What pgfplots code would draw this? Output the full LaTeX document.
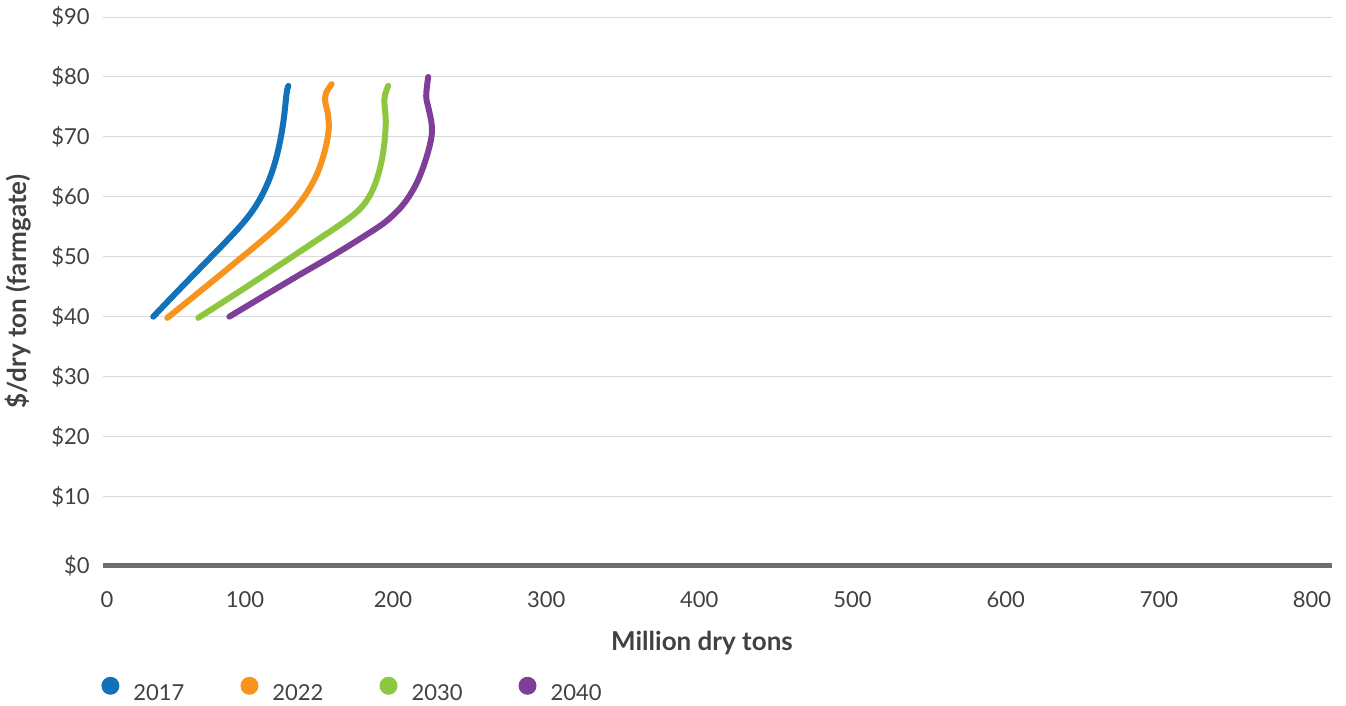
\documentclass[border=0pt]{standalone}
\usepackage{fontspec}
\setmainfont{Lato}
\usepackage{pgfplots}
\pgfplotsset{compat=1.18}
\definecolor{c2017}{HTML}{1172BA}
\definecolor{c2022}{HTML}{F7941D}
\definecolor{c2030}{HTML}{8DC63F}
\definecolor{c2040}{HTML}{7F3F98}
\definecolor{gridgray}{HTML}{D9D9D9}
\definecolor{axisgray}{HTML}{6D6E71}
\definecolor{txtgray}{HTML}{414042}
\begin{document}
\begin{tikzpicture}
\begin{axis}[
  scale only axis, width=614.5pt, height=274.5pt,
  xmin=10.7, xmax=813, ymin=-1.6, ymax=90,
  xtick={13.3,103.4,200,300,400,500,600,700,800},
  xticklabels={0,100,200,300,400,500,600,700,800},
  ytick={-1.6,10,20,30,40,50,60,70,80,90},
  yticklabels={\$0,\$10,\$20,\$30,\$40,\$50,\$60,\$70,\$80,\$90},
  ymajorgrids, grid style={gridgray, line width=0.5pt},
  major tick length=0pt,
  axis x line=bottom, axis y line=left,
  x axis line style={-, draw=axisgray, line width=2.5pt},
  y axis line style={draw=none},
  tick label style={font=\fontsize{11}{13}\selectfont, text=txtgray},
  yticklabel style={anchor=east, inner sep=0pt, xshift=-6.5pt},
  xticklabel style={anchor=north, inner sep=0pt, yshift=-12.5pt},
  xlabel={Million dry tons}, ylabel={\$/dry ton (farmgate)},
  label style={font=\bfseries\fontsize{13}{15}\selectfont, text=txtgray},
  xlabel style={at={(axis description cs:0.4874,-0.1403)}, anchor=center},
  ylabel style={at={(axis description cs:-0.0692,0.5)}, anchor=center},
  legend image code/.code={\fill[#1, draw=none] (4.5pt,4pt) circle (4.5pt); \path[draw=none] (0pt,0pt) -- (16pt,0pt);},
  legend style={draw=none, fill=none, at={(axis description cs:-0.0016,-0.2259)}, anchor=west,
    legend columns=4, inner sep=0pt, font=\fontsize{11}{13}\selectfont, text=txtgray,
    nodes={inner sep=0pt},
    /tikz/every even column/.append style={column sep=28pt}},
  every axis plot/.append style={line width=3pt, line cap=round, smooth, tension=0.6},
]
\addplot[c2017] coordinates {(43.5,40.0) (60,44.4) (76,48.6) (92,52.8) (103,55.9) (110.5,58.5) (116.5,61.3) (121.5,64.5) (125.5,68.3) (128.5,72.6) (130.6,77.3) (131.7,78.5)};
\addlegendentry{2017}
\addplot[c2022] coordinates {(52.7,39.8) (73,44.0) (93.6,48.3) (114,52.6) (128,55.8) (138,58.6) (146,61.6) (152,64.8) (156.3,68.5) (158.1,71.5) (157.4,74.0) (155.8,75.8) (156.3,77.3) (160.0,78.8)};
\addlegendentry{2022}
\addplot[c2030] coordinates {(72.9,39.8) (98.5,44.0) (124.1,48.3) (150,52.7) (168,55.8) (178.5,58.0) (185.5,60.5) (190.5,63.8) (193.8,67.8) (195.3,72.4) (194.4,76.3) (196.9,78.5)};
\addlegendentry{2030}
\addplot[c2040] coordinates {(93.2,40.0) (116,43.5) (139.1,47.0) (162,50.4) (181,53.4) (195,55.8) (206,58.5) (214.5,61.8) (220.5,65.5) (224.8,69.5) (225.3,72.0) (223.2,74.8) (221.7,76.8) (223.0,80.0)};
\addlegendentry{2040}
\coordinate (o) at (rel axis cs:0,0);
\end{axis}
\pgfresetboundingbox
\path ([shift={(-51.5pt,-70pt)}]o) rectangle ([shift={(621.5pt,283pt)}]o);
\end{tikzpicture}
\end{document}
